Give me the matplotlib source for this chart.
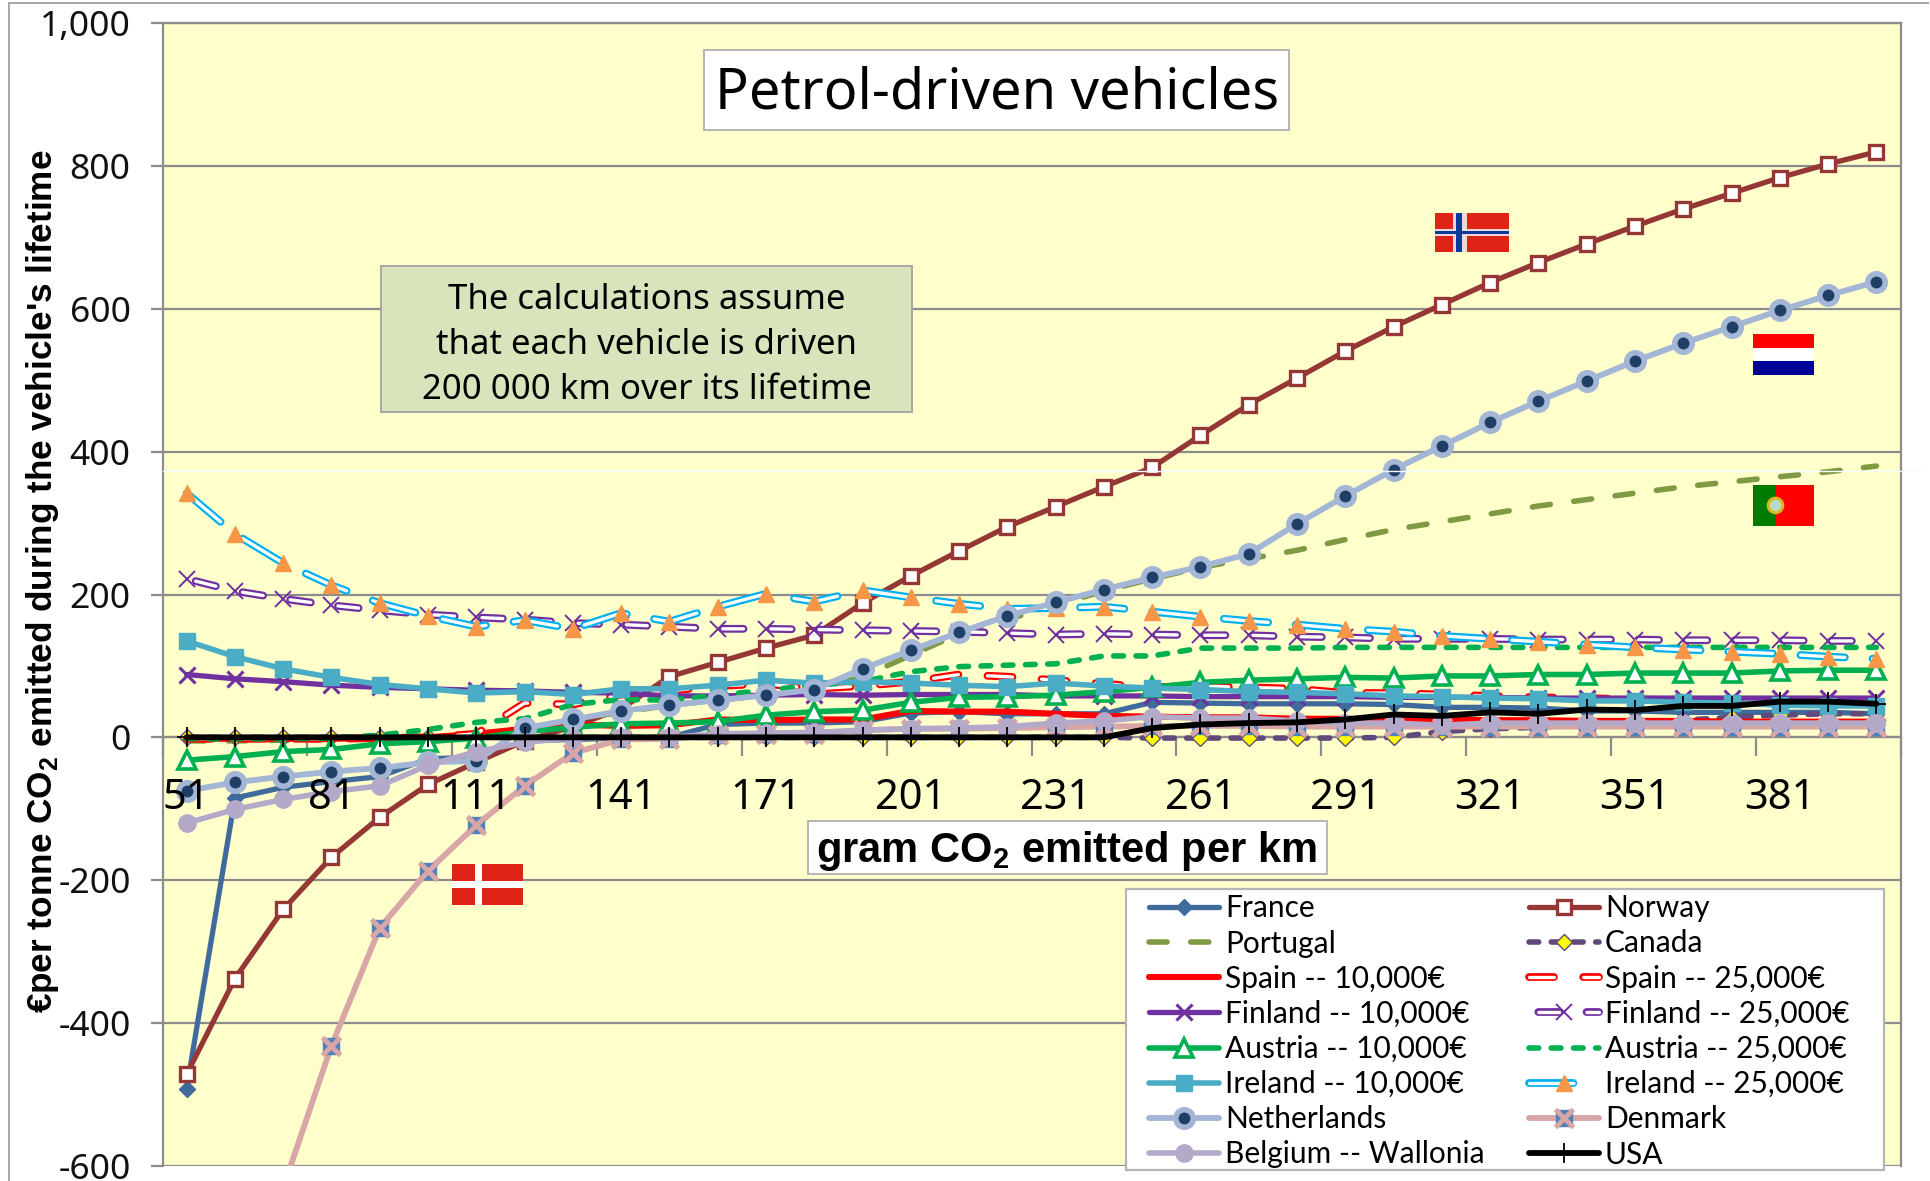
import matplotlib
matplotlib.use("Agg")
import matplotlib.pyplot as plt
import matplotlib.patheffects as pe
from matplotlib.legend_handler import HandlerTuple
from matplotlib.patches import Rectangle
import numpy as np

nan = float("nan")

grams = list(range(51, 402, 10))
grams_shown = [51, 81, 111, 141, 171, 201, 231, 261, 291, 321, 351, 381]
y_values = [-600, -400, -200, 0, 200, 400, 600, 800, 1000]
y_labels = ["-600", "-400", "-200", "0", "200", "400", "600", "800", "1,000"]

france = [-492, -85, -70, -62, -55, -30, -28, -5, -3, -1, 0, 18, 20, 20, 22, 34, 36, 33,
          33, 33, 49, 48, 47, 47, 47, 46, 42, 42, 41, 37, 37, 35, 35, 35, 35, 33]
norway = [-472, -338, -241, -168, -112, -66, -35, -5, 15, 40, 85, 105, 125, 143, 188, 226, 261, 295,
          323, 351, 378, 423, 466, 503, 541, 575, 606, 637, 665, 691, 716, 740, 762, 784, 803, 820]
portugal = [-5, -5, -4, -3, -2, -2, 0, 10, 25, 35, 45, 52, 59, 65, 85, 115, 145, 165,
            185, 205, 222, 238, 250, 262, 277, 291, 302, 313, 324, 333, 342, 351, 358, 365, 372, 380]
canada = [0, 0, 0, 0, 0, 0, 0, 0, 0, 0, 0, 0, 0, 0, 0, 0, 0, 0,
          0, 0, -1, -1, -1, -1, -1, 0, 8, 12, 14, 18, 20, 24, 28, 31, 33, 33]
spain_10 = [-2, -2, -2, -2, -1, 0, 5, 12, 18, 16, 17, 25, 24, 25, 25, 37, 36, 36,
            33, 30, 29, 28, 28, 26, 26, 25, 25, 24, 24, 23, 23, 23, 22, 22, 22, 22]
spain_25 = [-2, -2, -2, -2, -1, 0, 5, 48, 46, 60, 65, 72, 75, 68, 72, 78, 88, 85,
            80, 75, 70, 72, 70, 68, 62, 62, 60, 58, 56, 55, 53, 52, 51, 50, 50, 50]
finland_10 = [88, 82, 78, 73, 70, 68, 66, 65, 63, 62, 58, 58, 59, 60, 59, 60, 60, 60,
              58, 58, 58, 57, 57, 57, 57, 56, 56, 56, 55, 55, 55, 55, 55, 55, 55, 55]
finland_25 = [222, 205, 194, 185, 178, 172, 168, 165, 160, 158, 155, 152, 152, 151, 150, 149, 148, 146,
              144, 145, 144, 143, 143, 141, 140, 138, 138, 138, 137, 137, 137, 136, 136, 136, 135, 135]
austria_10 = [-32, -27, -20, -17, -9, -6, -1, 8, 14, 19, 20, 22, 31, 36, 38, 49, 56, 57,
              59, 64, 70, 77, 80, 82, 84, 83, 86, 86, 88, 88, 90, 90, 90, 93, 94, 94]
austria_25 = [-2, -2, -2, -1, 3, 11, 21, 26, 46, 53, 52, 59, 66, 73, 78, 92, 99, 101,
              103, 114, 114, 125, 125, 125, 126, 126, 126, 126, 126, 126, 126, 126, 126, 126, 126, 126]
ireland_10 = [135, 113, 96, 84, 74, 68, 62, 64, 60, 68, 68, 73, 80, 76, 78, 76, 73, 71,
              76, 72, 69, 67, 64, 63, 61, 58, 57, 55, 54, 51, 51, 49, 48, 45, 44, 44]
ireland_25 = [342, 285, 244, 213, 188, 170, 155, 164, 152, 174, 162, 183, 201, 190, 206, 196, 187, 180,
              181, 183, 176, 169, 163, 158, 152, 148, 142, 138, 134, 130, 126, 123, 120, 117, 113, 110]
netherlands = [-75, -63, -55, -48, -43, -35, -33, 13, 25, 37, 45, 52, 59, 67, 96, 122, 147, 170,
               189, 207, 224, 239, 257, 299, 338, 375, 408, 441, 471, 499, 527, 552, 575, 598, 619, 638]
denmark = [nan, nan, -631, -432, -267, -187, -123, -68, -22, -3, -2, 3, 5, 5, 10, 12, 12, 13,
           14, 15, 16, 16, 16, 15, 15, 15, 15, 15, 15, 15, 15, 15, 15, 15, 15, 15]
belgium = [-120, -101, -87, -76, -68, -39, -20, -7, -1, 0, 0, 5, 6, 7, 10, 12, 13, 15,
           20, 23, 29, 27, 27, 23, 20, 20, 17, 20, 20, 20, 20, 20, 20, 20, 20, 20]
usa = [0, 0, 0, 0, 0, 0, 0, 0, 0, 0, 0, 0, 0, 0, 0, 0, 0, 0,
       0, 0, 13, 18, 20, 21, 25, 32, 30, 35, 33, 39, 38, 44, 44, 50, 50, 47]

plt.rcParams["lines.scale_dashes"] = False
plt.rcParams["mathtext.fontset"] = "custom"
plt.rcParams["mathtext.bf"] = "Liberation Sans:bold"
plt.rcParams["mathtext.rm"] = "Liberation Sans"

TICK_FONT = "Noto Sans"
LEGEND_FONT = "Lato"
GRID = "#8C8C8C"

W, H = 1930, 1181
fig = plt.figure(figsize=(W / 100, H / 100), dpi=100, facecolor="white")
ax = fig.add_axes([162.5 / W, 1 - 1165.7 / H, (1900.5 - 162.5) / W, (1165.7 - 23.4) / H])
ax.set_facecolor("#FFFFCC")
idx = np.arange(len(grams))


def plot_series(values, label, color, lw=3.8, dashes=None, capsule=False, **marker):
    order = plot_series.count = getattr(plot_series, "count", 0) + 1
    ls = dashes if dashes else "-"
    line, = ax.plot(idx, values, color="white" if capsule else color, lw=2.4 if capsule else lw,
                    ls=ls, dash_capstyle="round", solid_capstyle="round", zorder=3 + order * 0.1)
    if capsule:
        line.set_path_effects([pe.Stroke(linewidth=5.6, foreground=color), pe.Normal()])
    handles = [line]
    if marker:
        extra = marker.pop("under", None)
        if extra:
            h, = ax.plot(idx, values, ls="none", zorder=3.02 + order * 0.1, **extra)
            handles.append(h)
        h, = ax.plot(idx, values, ls="none", zorder=3.05 + order * 0.1, **marker)
        handles.append(h)
    return tuple(handles), label


fr = plot_series(france, "France", "#3F6A9C", marker="D", ms=8, mfc="#3F6A9C", mec="#3F6A9C")
no = plot_series(norway, "Norway", "#953735", marker="s", ms=9.7, mfc="white", mec="#953735", mew=2.4)
pt = plot_series(portugal, "Portugal", "#7F9A42", lw=4, dashes=(0, (13, 17)))
ca = plot_series(canada, "Canada", "#604A7B", lw=4, dashes=(0, (7, 9)), marker="D", ms=8, mfc="#FFFF00",
                 mec="#604A7B", mew=1)
es1 = plot_series(spain_10, "Spain -- 10,000€", "#FF0000", lw=4.4)
es2 = plot_series(spain_25, "Spain -- 25,000€", "#FF0000", dashes=(0, (18, 21)), capsule=True)
fi1 = plot_series(finland_10, "Finland -- 10,000€", "#7030A0", marker="x", ms=12, mec="#7030A0", mew=2.2)
fi2 = plot_series(finland_25, "Finland -- 25,000€", "#7030A0", dashes=(28, (15, 19.7)), capsule=True,
                  marker="x", ms=12, mec="#7030A0", mew=1.4)
at1 = plot_series(austria_10, "Austria -- 10,000€", "#00B050", lw=4, marker="^", ms=13, mfc="white",
                  mec="#00B050", mew=2.6)
at2 = plot_series(austria_25, "Austria -- 25,000€", "#00B050", lw=4, dashes=(0, (7, 9)))
ie1 = plot_series(ireland_10, "Ireland -- 10,000€", "#4BACC6", lw=4, marker="s", ms=11, mfc="#4BACC6",
                  mec="#4BACC6")
ie2 = plot_series(ireland_25, "Ireland -- 25,000€", "#00B0F0", dashes=(0, (32, 20)), capsule=True,
                  marker="^", ms=12, mfc="#F79646", mec="#F79646")
nl = plot_series(netherlands, "Netherlands", "#A3B6D6", lw=4.2, marker="o", ms=12.6, mfc="#1F3F66",
                 mec="#A3B6D6", mew=4)
dk = plot_series(denmark, "Denmark", "#D8A6A6", lw=4.2, under=dict(marker="s", ms=11.5, mfc="#4F81BD", mec="#4F81BD"),
                 marker="x", ms=13, mec="#D8A6A6", mew=3.6)
be = plot_series(belgium, "Belgium -- Wallonia", "#B5A9C9", lw=4, marker="o", ms=12.5, mfc="#B5A9C9", mec="#B5A9C9")
us = plot_series(usa, "USA", "#000000", lw=4.2, marker="+", ms=14, mec="black", mew=1.3)

ax.set_xlim(-0.5, len(grams) - 0.5)
ax.set_ylim(-600, 1000)
ax.set_yticks(y_values, y_labels, fontfamily=TICK_FONT, fontsize=25.5, color="#111111")
ax.yaxis.grid(True, color=GRID, lw=1.6)
ax.set_axisbelow(True)
ax.tick_params(axis="y", length=8.4, width=1.6, color=GRID, pad=14.5)

ax.spines["bottom"].set_position(("data", 0))
for name in ax.spines:
    ax.spines[name].set_color(GRID)
    ax.spines[name].set_linewidth(1.6)

ax.set_xticks(np.arange(-0.5, len(grams), 3), [])
ax.tick_params(axis="x", which="major", length=14, width=1.6, color=GRID, direction="out")
# the category labels sit on top of the lines in the original
for g in grams_shown:
    ax.annotate(str(g), xy=(grams.index(g), 0), xytext=(0, -44), textcoords="offset points",
                ha="center", va="center", fontfamily=TICK_FONT, fontsize=30, zorder=9)

# page furniture drawn in pixel coordinates
over = fig.add_axes([0, 0, 1, 1], zorder=5)
over.set_xlim(0, W)
over.set_ylim(H, 0)
over.axis("off")


def box(x0, y0, x1, y1, face, edge=None, lw=0):
    over.add_patch(Rectangle((x0, y0), x1 - x0, y1 - y0, fc=face, ec=edge or face, lw=lw))


over.plot([9, 9], [4, H], color="#A6A6A6", lw=1.4)
over.plot([9, 1928], [3, 3], color="#A6A6A6", lw=1.4)
over.plot([163, 1925], [471, 471], color="#F4FBFF", lw=1)

box(1126, 889, 1884, 1170, "white", "#B4B4B4", 1.6)
rows = [fr, pt, es1, fi1, at1, ie1, nl, be, no, ca, es2, fi2, at2, ie2, dk, us]
leg = over.legend([r[0] for r in rows], [r[1] for r in rows], ncol=2, loc="lower left",
                  bbox_to_anchor=(1149 / W, 1 - 1168.5 / H), bbox_transform=fig.transFigure,
                  handler_map={tuple: HandlerTuple(ndivide=1, pad=0)},
                  prop={"family": LEGEND_FONT, "size": 21.5}, handlelength=2.35, handletextpad=0.2,
                  labelspacing=0.24, columnspacing=1.47, borderpad=0, borderaxespad=0, frameon=False)
leg.set_zorder(10)

box(704, 50, 1289, 130, "white", "#B4B4B4", 1.4)
over.text(997, 94, "Petrol-driven vehicles", ha="center", va="center", fontfamily=TICK_FONT, fontsize=40.3)

box(381, 266, 912, 412, "#D8E4BC", "#A6A6A6", 1.4)
note_lines = ["The calculations assume", "that each vehicle is driven", "200 000 km over its lifetime"]
for i, line in enumerate(note_lines):
    over.text(647, 300 + i * 45, line, ha="center", va="center", fontfamily=TICK_FONT, fontsize=25)

box(808, 821, 1327, 874, "white", "#B4B4B4", 1.4)
over.text(1066, 851, r"gram CO$_{\mathbf{2}}$ emitted per km", ha="center", va="center",
          fontfamily="Liberation Sans", fontweight="bold", fontsize=30)

over.text(43, 581, r"€per tonne CO$_{\mathbf{2}}$ emitted during the vehicle's lifetime", rotation=90,
          ha="center", va="center", fontfamily="Liberation Sans", fontweight="bold", fontsize=25.3)

# flags
box(1435, 213, 1509, 252, "#DF2417")
box(1453, 213, 1467, 252, "#F0D8D8")
box(1435, 229, 1509, 236, "#F0D8D8")
box(1435, 231, 1509, 234, "#0E3A9E")
box(1456, 213, 1462, 252, "#0E3A9E")

box(1753, 334, 1814, 348, "#FF0000")
box(1753, 348, 1814, 361, "white")
box(1753, 361, 1814, 375, "#000099")

box(1753, 485, 1776, 526, "#007A00")
box(1776, 485, 1814, 526, "#FF0000")
over.scatter([1775], [505], s=110, fc="#B8D8C8", ec="#D8B820", lw=2.2, zorder=4)

box(452, 864, 523, 905, "#DF2417")
box(475, 864, 482, 905, "white")
box(452, 881, 523, 888, "white")

fig.savefig("out.png", dpi=100, facecolor="white")
